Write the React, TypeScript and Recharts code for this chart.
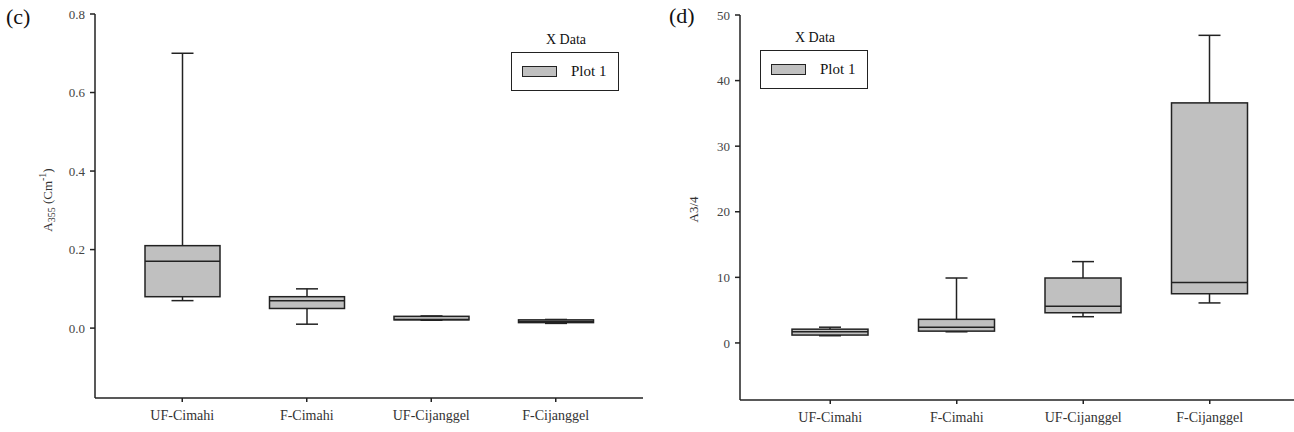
import React from 'react';
import { ComposedChart, Bar, XAxis, YAxis, Legend } from 'recharts';

const categories = ['UF-Cimahi', 'F-Cimahi', 'UF-Cijanggel', 'F-Cijanggel'];

// panel (c) - A355 (Cm-1)
const a355Min = [0.07, 0.01, 0.02, 0.012];
const a355Q1 = [0.08, 0.05, 0.021, 0.014];
const a355Median = [0.17, 0.07, 0.022, 0.017];
const a355Q3 = [0.21, 0.08, 0.03, 0.021];
const a355Max = [0.7, 0.1, 0.031, 0.022];
const a355Ticks = [0, 0.2, 0.4, 0.6, 0.8];

// panel (d) - A3/4
const a34Min = [1.1, 1.7, 4.0, 6.1];
const a34Q1 = [1.2, 1.8, 4.6, 7.5];
const a34Median = [1.7, 2.4, 5.6, 9.2];
const a34Q3 = [2.1, 3.6, 9.9, 36.6];
const a34Max = [2.4, 9.9, 12.4, 46.9];
const a34Ticks = [0, 10, 20, 30, 40, 50];

const FONT = '"Liberation Serif", "Times New Roman", serif';
const INK = '#222';
const BOX_FILL = '#c0c0c0';

const buildRows = (mins: number[], q1s: number[], meds: number[], q3s: number[], maxs: number[]) =>
  categories.map((name, i) => ({
    name,
    min: mins[i],
    q1: q1s[i],
    median: meds[i],
    q3: q3s[i],
    max: maxs[i],
  }));

const a355Data = buildRows(a355Min, a355Q1, a355Median, a355Q3, a355Max);
const a34Data = buildRows(a34Min, a34Q1, a34Median, a34Q3, a34Max);

// bar spans min..max, box/median are placed along the same scale
function BoxShape(props: any) {
  const { x, y, width, height, payload } = props;
  if (!payload) return null;
  const top = Math.min(y, y + height);
  const bottom = Math.max(y, y + height);
  const span = payload.max - payload.min;
  const px = span > 0 ? (bottom - top) / span : 0;
  const yOf = (v: number) => bottom - (v - payload.min) * px;
  const cx = x + width / 2;
  const cap = 11;
  const q3y = yOf(payload.q3);
  const q1y = yOf(payload.q1);
  const my = yOf(payload.median);
  return (
    <g stroke={INK} strokeWidth={1.5}>
      <line x1={cx} x2={cx} y1={top} y2={q3y} />
      <line x1={cx} x2={cx} y1={q1y} y2={bottom} />
      <line x1={cx - cap} x2={cx + cap} y1={top} y2={top} />
      <line x1={cx - cap} x2={cx + cap} y1={bottom} y2={bottom} />
      <rect x={x} y={q3y} width={width} height={Math.max(q1y - q3y, 1)} fill={BOX_FILL} />
      <line x1={x} x2={x + width} y1={my} y2={my} />
    </g>
  );
}

function LegendBox(props: any) {
  const item = props.payload && props.payload[0];
  return (
    <div style={{ fontFamily: FONT, color: '#111' }}>
      <div style={{ height: 22, lineHeight: '20px', textAlign: 'center', fontSize: 14 }}>X Data</div>
      <div
        style={{
          boxSizing: 'border-box',
          width: 108,
          height: 39,
          border: `1.5px solid ${INK}`,
          display: 'flex',
          alignItems: 'center',
          paddingLeft: 10,
        }}
      >
        <span
          style={{
            display: 'inline-block',
            boxSizing: 'border-box',
            width: 35,
            height: 11,
            background: BOX_FILL,
            border: `1.5px solid ${INK}`,
          }}
        />
        <span style={{ marginLeft: 14, fontSize: 15 }}>{item ? item.value : 'Plot 1'}</span>
      </div>
    </div>
  );
}

function A355Label({ viewBox }: any) {
  const x = viewBox.x + 12;
  const y = viewBox.y + viewBox.height / 2 - 6;
  return (
    <text
      x={x}
      y={y}
      transform={`rotate(-90, ${x}, ${y})`}
      textAnchor="middle"
      dominantBaseline="central"
      fontFamily={FONT}
      fontSize={13}
      fill="#333"
    >
      A<tspan dy={4} fontSize={10}>355</tspan>
      <tspan dy={-4}> (Cm</tspan>
      <tspan dy={-5} fontSize={10}>-1</tspan>
      <tspan dy={5}>)</tspan>
    </text>
  );
}

function A34Label({ viewBox }: any) {
  const x = viewBox.x + 13;
  const y = viewBox.y + viewBox.height / 2 + 2;
  return (
    <text
      x={x}
      y={y}
      transform={`rotate(-90, ${x}, ${y})`}
      textAnchor="middle"
      dominantBaseline="central"
      fontFamily={FONT}
      fontSize={13}
      fill="#333"
    >
      A3/4
    </text>
  );
}

const xTick = { fontFamily: FONT, fontSize: 14, fill: '#333' };
const yTick = { fontFamily: FONT, fontSize: 13, fill: '#444' };
const axisLine = { stroke: INK, strokeWidth: 1.5 };

function BoxPanel({ data, domain, ticks, fmt, width, margin, padding, barSize, legendPos, label }: any) {
  return (
    <ComposedChart width={width} height={432} data={data} margin={margin}>
      <XAxis
        dataKey="name"
        type="category"
        padding={padding}
        tick={xTick}
        tickSize={4}
        tickMargin={8}
        axisLine={axisLine}
        tickLine={{ stroke: INK, strokeWidth: 1.5 }}
        height={30}
        interval={0}
      />
      <XAxis xAxisId="top" dataKey="name" orientation="top" tick={false} tickLine={false} height={0} axisLine={axisLine} />
      <YAxis
        type="number"
        domain={domain}
        ticks={ticks}
        allowDataOverflow
        tickFormatter={fmt}
        tick={yTick}
        tickSize={5}
        tickMargin={5}
        width={60}
        axisLine={axisLine}
        tickLine={{ stroke: INK, strokeWidth: 1.5 }}
        label={label}
      />
      <YAxis yAxisId="right" orientation="right" tick={false} tickLine={false} width={0} axisLine={axisLine} />
      <Legend
        layout="horizontal"
        verticalAlign="middle"
        align="center"
        content={<LegendBox />}
        wrapperStyle={{ left: legendPos.left, top: legendPos.top, width: 110, height: 62 }}
      />
      <Bar
        name="Plot 1"
        dataKey={(d: any) => [d.min, d.max]}
        barSize={barSize}
        fill={BOX_FILL}
        shape={<BoxShape />}
        isAnimationActive={false}
      />
    </ComposedChart>
  );
}

export default function App() {
  return (
    <div
      style={{
        position: 'fixed',
        left: 0,
        top: 0,
        width: 1294,
        height: 432,
        overflow: 'hidden',
        background: '#fff',
      }}
    >
      <div style={{ position: 'absolute', left: 6, top: 4, fontFamily: FONT, fontSize: 22, color: '#111' }}>(c)</div>
      <div style={{ position: 'absolute', left: 669, top: 3, fontFamily: FONT, fontSize: 22, color: '#111' }}>(d)</div>
      <div style={{ position: 'absolute', left: 0, top: 0 }}>
        <BoxPanel
          data={a355Data}
          domain={[-0.178, 0.8]}
          ticks={a355Ticks}
          fmt={(v: number) => v.toFixed(1)}
          width={660}
          margin={{ top: 14, right: 17, bottom: 4, left: 35 }}
          padding={{ left: 25, right: 25 }}
          barSize={75}
          legendPos={{ left: 511, top: 30 }}
          label={<A355Label />}
        />
      </div>
      <div style={{ position: 'absolute', left: 650, top: 0 }}>
        <BoxPanel
          data={a34Data}
          domain={[-8.7, 50]}
          ticks={a34Ticks}
          fmt={(v: number) => String(v)}
          width={664}
          margin={{ top: 15, right: 14, bottom: 2, left: 30 }}
          padding={{ left: 27, right: 27 }}
          barSize={76}
          legendPos={{ left: 110, top: 28 }}
          label={<A34Label />}
        />
      </div>
    </div>
  );
}
